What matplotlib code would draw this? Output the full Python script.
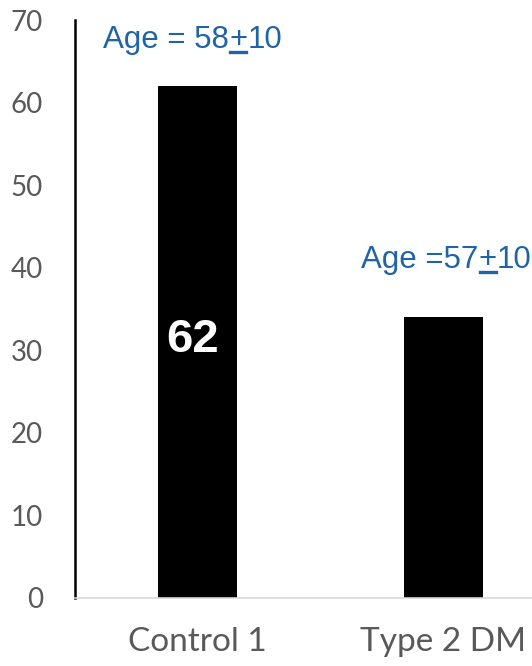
import matplotlib
matplotlib.use("Agg")
import matplotlib.pyplot as plt
from matplotlib.lines import Line2D

# Data
categories = ["Control 1", "Type 2 DM"]
values = [62, 34]
age_prefix = ["Age = 58", "Age =57"]
age_sd = ["10", "10"]
bar_value_label = "62"

DPI = 100
fig = plt.figure(figsize=(5.32, 6.66), dpi=DPI)
ax = fig.add_axes([75 / 532, 68 / 666, 491 / 532, 578 / 666])

x = list(range(len(categories)))
ax.bar(x, values, width=0.32, color="black", zorder=2)

ax.set_xlim(-0.5, 1.5)
ax.set_ylim(0, 70)
ax.set_yticks(range(0, 71, 10))
ax.set_xticks(x)
ax.set_xticklabels(categories, fontfamily="Lato", fontsize=24, color="#595959")
ax.tick_params(axis="y", length=0, pad=23, labelsize=20, labelcolor="#595959")
ax.tick_params(axis="x", length=0, pad=21)
for lbl in ax.get_yticklabels():
    lbl.set_fontfamily("Lato")

for side in ("top", "right"):
    ax.spines[side].set_visible(False)
ax.spines["left"].set_linewidth(1.8)
ax.spines["left"].set_color("black")
ax.spines["bottom"].set_linewidth(1.2)
ax.spines["bottom"].set_color("#D9D9D9")

# Value label inside the first bar
ax.text(x[0] - 0.02, values[0] * 0.503, bar_value_label, ha="center", va="center",
        color="white", fontsize=34, fontweight="bold", fontfamily="Liberation Sans",
        zorder=3)

# Age annotations with an underlined plus sign
blue = "#2164A6"
afont = dict(fontsize=22.5, color=blue, fontfamily="Liberation Sans")
age_pos = [(-0.385, 66.6), (0.667, 40.0)]
plus_texts = []
for (tx, ty), pre, sd in zip(age_pos, age_prefix, age_sd):
    t1 = ax.text(tx, ty, pre, ha="left", va="baseline", **afont)
    t2 = ax.annotate("+", xy=(1, 0), xycoords=t1, ha="left", va="bottom", **afont)
    ax.annotate(sd, xy=(1, 0), xycoords=t2, ha="left", va="bottom", **afont)
    plus_texts.append(t2)

fig.canvas.draw()
renderer = fig.canvas.get_renderer()
for t in plus_texts:
    bb = t.get_window_extent(renderer)
    y_line = bb.y0 + 0.09 * bb.height
    x0, x1 = bb.x0 + 1, bb.x1 - 1
    (fx0, fy), (fx1, _) = fig.transFigure.inverted().transform([(x0, y_line), (x1, y_line)])
    fig.add_artist(Line2D([fx0, fx1], [fy, fy], color=blue, linewidth=2.4))

fig.savefig("out.png", dpi=DPI)
